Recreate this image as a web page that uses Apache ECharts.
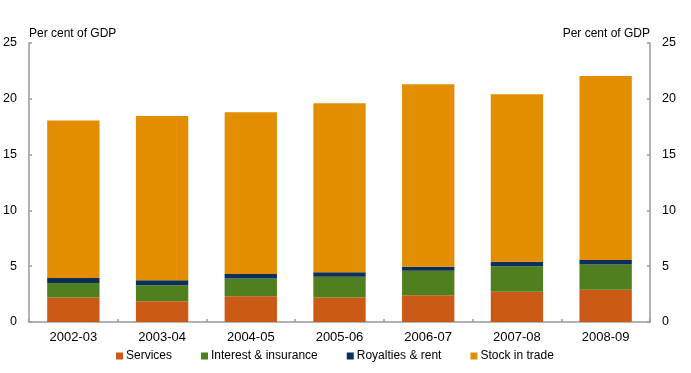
<!DOCTYPE html>
<html><head><meta charset="utf-8">
<script src="https://cdn.jsdelivr.net/npm/echarts@6/dist/echarts.min.js"></script>
<style>html,body{margin:0;padding:0;background:#fff}#c{width:691px;height:373px}</style>
</head><body><div id="c"></div>
<script>
const categories = ['2002-03','2003-04','2004-05','2005-06','2006-07','2007-08','2008-09'];
const services = [2.2, 1.85, 2.3, 2.2, 2.4, 2.7, 2.9];
const interestInsurance = [1.3, 1.45, 1.6, 1.85, 2.2, 2.3, 2.25];
const royaltiesRent = [0.45, 0.45, 0.4, 0.4, 0.35, 0.4, 0.4];
const stockInTrade = [14.1, 14.7, 14.5, 15.15, 16.35, 15.0, 16.5];
const yTicks = { min: 0, max: 25, interval: 5 };

const font = 'Liberation Sans, Arial, sans-serif';
const axisColor = '#9a9a9a';
function yAxis(pos) {
  return {
    type: 'value', position: pos, min: yTicks.min, max: yTicks.max, interval: yTicks.interval,
    name: 'Per cent of GDP', nameLocation: 'end', nameGap: 3,
    nameTextStyle: { color: '#000', fontFamily: font, fontSize: 12, align: pos === 'left' ? 'left' : 'right' },
    axisLine: { show: true, lineStyle: { color: axisColor, width: 1.5 } },
    axisTick: { show: true, inside: true, length: 3, lineStyle: { color: axisColor, width: 1.5 } },
    axisLabel: { color: '#000', fontFamily: font, fontSize: 12.5, margin: 12 },
    splitLine: { show: false }
  };
}
const chart = echarts.init(document.getElementById('c'));
const mk = (name, data, color) => ({
  name, type: 'bar', stack: 'a', data, barCategoryGap: '41%',
  itemStyle: { color }, emphasis: { disabled: true }
});
chart.setOption({
  animation: false,
  grid: { left: 29, right: 41, top: 43, bottom: 51, containLabel: false },
  legend: {
    bottom: 6, left: 111, itemWidth: 7, itemHeight: 7, itemGap: 29, icon: 'rect',
    textStyle: { color: '#000', fontFamily: font, fontSize: 12, padding: [0,0,0,-2] },
    data: ['Services','Interest & insurance','Royalties & rent','Stock in trade']
  },
  xAxis: {
    type: 'category', data: categories,
    axisLine: { lineStyle: { color: axisColor, width: 1.5 } },
    axisTick: { show: true, inside: true, length: 3, lineStyle: { color: axisColor, width: 1.5 } },
    axisLabel: { color: '#000', fontFamily: font, fontSize: 13, margin: 9 }
  },
  yAxis: [yAxis('left'), yAxis('right')],
  series: [
    mk('Services', services, '#CB5A17'),
    mk('Interest & insurance', interestInsurance, '#4F7F1E'),
    mk('Royalties & rent', royaltiesRent, '#0C2F59'),
    mk('Stock in trade', stockInTrade, '#E38E00')
  ]
});
</script></body></html>
